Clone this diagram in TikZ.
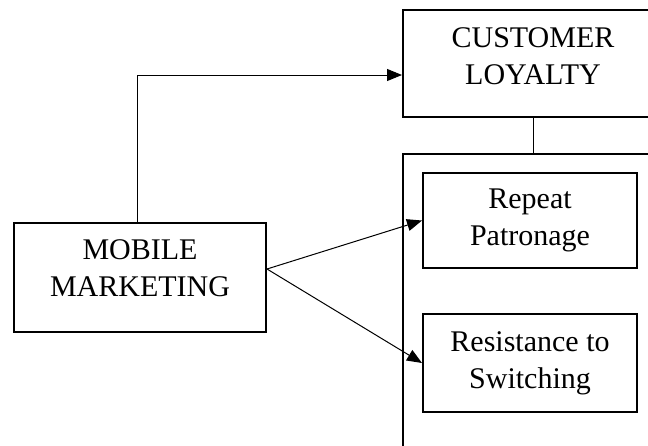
\documentclass[tikz,border=0pt]{standalone}
\usepackage{fontspec}
\setmainfont{Liberation Serif}
\usetikzlibrary{arrows.meta}
\usetikzlibrary{calc}
\tikzset{box/.style={draw,line width=2pt,align=center,inner sep=0pt,font=\fontsize{30}{37}\selectfont},box/.default=}
\tikzset{link/.style={line width=1pt},link/.default=}
\tikzset{arrow/.style={link,-{Triangle[length=15pt,width=12pt]}}}

\begin{document}
\begin{tikzpicture}[x=1pt,y=-1pt]
		\clip (0,0) rectangle (648,445);
		\node [box,minimum width=260,minimum height=107,text depth=15pt] (CL) at (533,63.5) {CUSTOMER\\LOYALTY};
		\node [box,minimum width=260,minimum height=306] (dims) at (533,307) {};
		\node [box,minimum width=214,minimum height=95] (RP) at (530,220.5) {Repeat\\Patronage};
		\node [box,minimum width=214,minimum height=98] (RS) at (530,363) {Resistance to\\Switching};
		\node [box,minimum width=252,minimum height=109,text depth=18pt] (MM) at (140,277.5) {MOBILE\\MARKETING};
		
		\coordinate (fork) at ($(MM.east)+(0,-8.5)$);
		\draw [arrow] ($(MM.north)+(-3,0)$) |- ($(CL.west)+(0,11.5)$);
		\draw [link] (CL.south) -- (dims.north);
		\draw [arrow] (fork) -- (RP.west);
		\draw [arrow] (fork) -- (RS.west);
	\end{tikzpicture}
\end{document}
